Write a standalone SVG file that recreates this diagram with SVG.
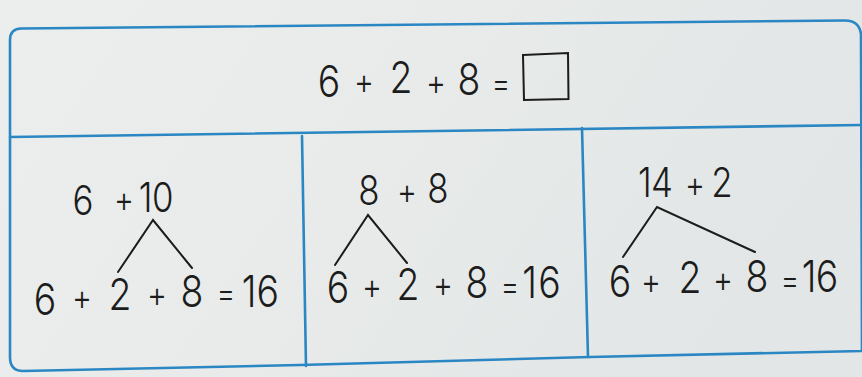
<svg xmlns="http://www.w3.org/2000/svg" width="862" height="377" viewBox="0 0 862 377">
  <defs>
    <linearGradient id="paper" x1="0" y1="0" x2="1" y2="0.3">
      <stop offset="0" stop-color="#eceeed"/>
      <stop offset="0.5" stop-color="#e8ebea"/>
      <stop offset="1" stop-color="#e2e6e6"/>
    </linearGradient>
  </defs>
  <style>
    .frame { fill: none; stroke: #2b87c3; stroke-width: 2.6; stroke-linecap: round; stroke-linejoin: round; }
    .hw { font-family: Inter, "Open Sans", "DejaVu Sans", sans-serif; font-weight: 300; fill: #1c1c1c; text-anchor: middle; }
    .big { font-size: 44px; }
    .mid { font-size: 41px; }
    .op { font-size: 36px; }
    .eq { font-size: 34px; }
    .stroke { fill: none; stroke: #1c1c1c; stroke-width: 2; stroke-linecap: round; }
  </style>

  <rect x="0" y="0" width="862" height="377" fill="url(#paper)"/>

  <g id="frame">
    <path class="frame" d="M 10 357 L 10 40 Q 10 29 21 28.5 L 845 20.5 Q 859 20.5 861 34 L 862 351 M 10 357 Q 10 371 23 371 L 300 365 L 590 357 L 862 351"/>
    <path class="frame" d="M 10 137 L 862 125"/>
    <path class="frame" d="M 302 136 L 306 366"/>
    <path class="frame" d="M 582 128 L 588 357"/>
  </g>

  <g id="title">
    <text class="hw big" transform="scale(0.85 1)"><tspan x="387.1" y="97">6</tspan><tspan x="407.1" y="96"> </tspan><tspan class="op" x="428.2" y="94">+</tspan><tspan x="449.4" y="93"> </tspan><tspan x="471.8" y="93">2</tspan><tspan x="491.8" y="93"> </tspan><tspan class="op" x="512.9" y="95">+</tspan><tspan x="531.8" y="94"> </tspan><tspan x="551.8" y="95">8</tspan><tspan x="570.6" y="95"> </tspan><tspan class="eq" x="589.4" y="95">=</tspan></text>
    <path class="stroke" d="M 523 55 L 568 53 L 568.5 99 L 524 100 Z"/>
  </g>

  <g id="panel1">
    <text class="hw mid" transform="scale(0.85 1)"><tspan x="97.6" y="215">6</tspan><tspan x="121.2" y="213"> </tspan><tspan class="op" x="145.9" y="212">+</tspan><tspan x="160" y="212"> </tspan><tspan x="171.2" y="212">1</tspan><tspan x="191.5" y="212">0</tspan></text>
    <text class="hw big" transform="scale(0.85 1)"><tspan x="52.9" y="315">6</tspan><tspan x="74.1" y="313"> </tspan><tspan class="op" x="96.5" y="310">+</tspan><tspan x="117.6" y="310"> </tspan><tspan x="141.2" y="310">2</tspan><tspan x="162.4" y="309"> </tspan><tspan class="op" x="184.7" y="307">+</tspan><tspan x="205.9" y="307"> </tspan><tspan x="225.9" y="307">8</tspan><tspan x="245.9" y="307"> </tspan><tspan class="eq" x="265.9" y="305">=</tspan><tspan x="280" y="307"> </tspan><tspan x="293" y="307">1</tspan><tspan x="315" y="307">6</tspan></text>
  </g>

  <g id="panel2">
    <text class="hw mid" transform="scale(0.85 1)"><tspan x="434.1" y="205">8</tspan><tspan x="456.5" y="204"> </tspan><tspan class="op" x="478.8" y="204">+</tspan><tspan x="496.5" y="203"> </tspan><tspan x="515.3" y="203">8</tspan></text>
    <text class="hw big" transform="scale(0.85 1)"><tspan x="397.6" y="303">6</tspan><tspan x="417.6" y="301"> </tspan><tspan class="op" x="437.6" y="299">+</tspan><tspan x="458.8" y="300"> </tspan><tspan x="480" y="300">2</tspan><tspan x="500" y="299"> </tspan><tspan class="op" x="521.2" y="297">+</tspan><tspan x="541.2" y="298"> </tspan><tspan x="561.2" y="298">8</tspan><tspan x="581.2" y="298"> </tspan><tspan class="eq" x="600" y="298">=</tspan><tspan x="611.8" y="298"> </tspan><tspan x="623" y="298">1</tspan><tspan x="646.5" y="298">6</tspan></text>
  </g>

  <g id="panel3">
    <text class="hw mid" transform="scale(0.85 1)"><tspan x="758.8" y="197">1</tspan><tspan x="778.8" y="197">4</tspan><tspan x="798.8" y="196"> </tspan><tspan class="op" x="817.6" y="197">+</tspan><tspan x="832.9" y="196"> </tspan><tspan x="849.4" y="197">2</tspan></text>
    <text class="hw big" transform="scale(0.85 1)"><tspan x="729.4" y="297">6</tspan><tspan x="748.2" y="295"> </tspan><tspan class="op" x="765.9" y="294">+</tspan><tspan x="788.2" y="293"> </tspan><tspan x="811.8" y="293">2</tspan><tspan x="830.6" y="292"> </tspan><tspan class="op" x="850.6" y="292">+</tspan><tspan x="870.6" y="292"> </tspan><tspan x="890.6" y="292">8</tspan><tspan x="910.6" y="292"> </tspan><tspan class="eq" x="929.4" y="292">=</tspan><tspan x="941.2" y="292"> </tspan><tspan x="952" y="292">1</tspan><tspan x="973" y="292">6</tspan></text>
  </g>

  <g id="connectors">
    <path class="stroke" d="M 118 272 L 153 220 L 192 268"/>
    <path class="stroke" d="M 335 265 L 368 215 L 407 263"/>
    <path class="stroke" d="M 623 257 L 657 207 L 755 252"/>
  </g>
</svg>
